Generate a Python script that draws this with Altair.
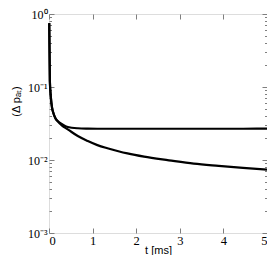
import altair as alt
import pandas as pd

t_ms = [0.005, 0.02, 0.04, 0.07, 0.1, 0.15, 0.2, 0.3, 0.43, 0.66, 0.89, 1.11,
        1.34, 1.57, 1.8, 2.18, 2.75, 3.32, 3.89, 4.45, 5.0]
upper = [0.75, 0.12, 0.075, 0.052, 0.044, 0.037, 0.0342, 0.031, 0.0283, 0.0272,
         0.0269, 0.0268, 0.0268, 0.0268, 0.0268, 0.0268, 0.0268, 0.0268, 0.0268,
         0.0268, 0.0269]
lower = [0.75, 0.12, 0.075, 0.052, 0.044, 0.037, 0.0338, 0.0295, 0.0263, 0.0213,
         0.0182, 0.0160, 0.0145, 0.0133, 0.0123, 0.0111, 0.0099, 0.0089, 0.0083,
         0.0078, 0.0074]
x_ticks = [0, 1, 2, 3, 4, 5]
y_major = [0.001, 0.01, 0.1, 1]
y_minor = [m * d for d in [0.001, 0.01, 0.1] for m in range(2, 10)]

rows = []
for name, ys in [("a", upper), ("b", lower)]:
    for t, v in zip(t_ms, ys):
        rows.append({"t": t, "v": v, "s": name})
df = pd.DataFrame(rows)

GRAY = "#7f7f7f"
xs = alt.Scale(domain=[0, 5], nice=False)
ys = alt.Scale(type="log", domain=[0.001, 1], nice=False)

lab = ("abs(datum.value-1)<1e-9 ? '10⁰' : abs(datum.value-0.1)<1e-9 ? '10⁻¹' : "
       "abs(datum.value-0.01)<1e-9 ? '10⁻²' : '10⁻³'")

base = alt.Chart(df)

def axis_common(**kw):
    d = dict(domain=False, grid=False, tickColor=GRAY, tickWidth=1)
    d.update(kw)
    return alt.Axis(**d)

main = base.mark_line(color="black", strokeWidth=2.2, interpolate="monotone").encode(
    x=alt.X("t:Q", scale=xs, axis=axis_common(
        orient="bottom", values=x_ticks, tickSize=alt.ExprRef(expr="-5"),
        labelFont="Liberation Serif", labelFontSize=12.5, labelColor="black",
        labelPadding=6, title="t [ms]", titleFont="Liberation Sans",
        titleFontSize=11, titleFontWeight="normal", titlePadding=-2,
        titleColor="black")),
    y=alt.Y("v:Q", scale=ys, axis=axis_common(
        orient="left", values=y_major, tickSize=alt.ExprRef(expr="-5"),
        labelExpr=lab, labelFont="Liberation Serif", labelFontSize=12,
        labelColor="black", labelPadding=7, title="(Δ pₐₜ)",
        titleFont="Liberation Sans", titleFontSize=11, titleFontWeight="normal",
        titleColor="black", titleAngle=270, titleX=-28, titleY=87)),
    detail="s:N",
)

mirror = base.mark_line(strokeOpacity=0).encode(
    x=alt.X("t:Q", scale=xs, axis=axis_common(
        orient="top", values=x_ticks, tickSize=alt.ExprRef(expr="-5"),
        labels=False, title=None)),
    y=alt.Y("v:Q", scale=ys, axis=axis_common(
        orient="right", values=y_major, tickSize=alt.ExprRef(expr="-5"),
        labels=False, title=None)),
    detail="s:N",
)

minor_l = base.mark_line(strokeOpacity=0).encode(
    x=alt.X("t:Q", scale=xs, axis=None),
    y=alt.Y("v:Q", scale=ys, axis=axis_common(
        orient="left", values=y_minor, tickSize=alt.ExprRef(expr="-2.5"),
        labels=False, title=None)),
    detail="s:N",
)
minor_r = base.mark_line(strokeOpacity=0).encode(
    x=alt.X("t:Q", scale=xs, axis=None),
    y=alt.Y("v:Q", scale=ys, axis=axis_common(
        orient="right", values=y_minor, tickSize=alt.ExprRef(expr="-2.5"),
        labels=False, title=None)),
    detail="s:N",
)

chart = alt.layer(main, mirror, minor_l, minor_r).resolve_axis(
    x="independent", y="independent"
).properties(
    width=218, height=219,
    autosize=alt.AutoSizeParams(type="none"),
    padding={"left": 41, "top": 6, "right": 0, "bottom": 22},
).configure_view(stroke=GRAY, strokeWidth=1).configure(background="white")

chart.save("out.html", embed_options={"renderer": "svg", "actions": False})
